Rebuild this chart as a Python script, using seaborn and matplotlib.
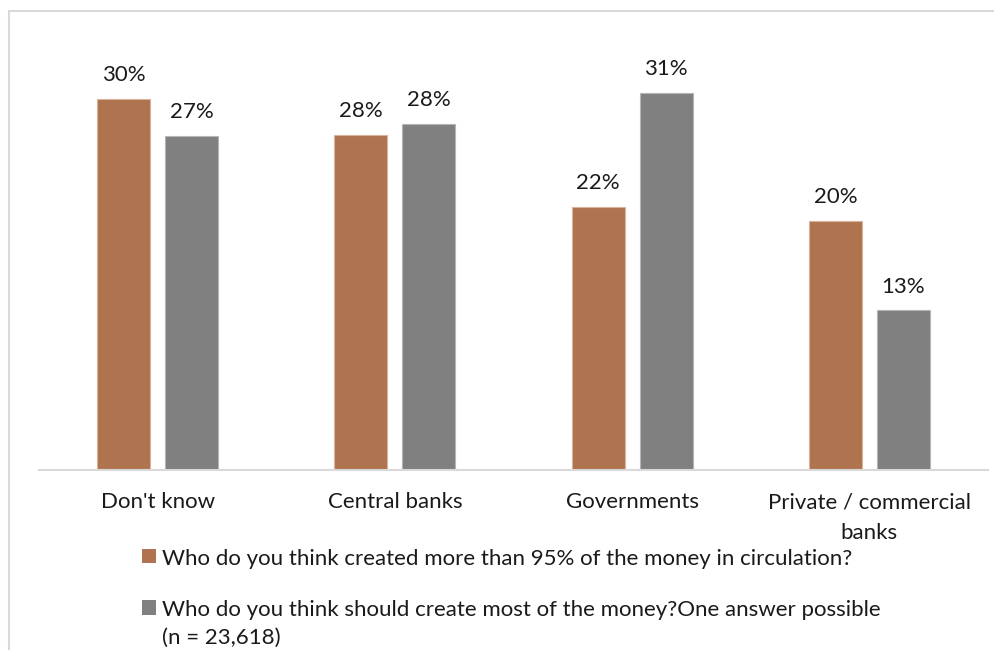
import matplotlib
matplotlib.use("Agg")
import matplotlib.pyplot as plt
import seaborn as sns
import pandas as pd
from matplotlib.patches import Rectangle, Patch

categories = ["Don't know", "Central banks", "Governments", "Private / commercial\nbanks"]
series_names = [
    "Who do you think created more than 95% of the money in circulation?",
    "Who do you think should create most of the money?One answer possible\n(n = 23,618)",
]
created_values = [30.0, 27.1, 21.3, 20.1]
should_values = [27.0, 28.0, 30.5, 12.9]
created_labels = ["30%", "28%", "22%", "20%"]
should_labels = ["27%", "28%", "31%", "13%"]
colors = ["#B0734F", "#808080"]

df = pd.DataFrame({
    "category": categories * 2,
    "series": [series_names[0]] * 4 + [series_names[1]] * 4,
    "value": created_values + should_values,
})

sns.set_theme(style="white")
plt.rcParams["font.family"] = ["Lato", "DejaVu Sans"]

fig = plt.figure(figsize=(9.94, 6.5), dpi=100)
ax = fig.add_axes([39 / 994, 180 / 650, 949 / 994, 35 * 12.37 / 650])

sns.barplot(data=df, x="category", y="value", hue="series", order=categories,
            hue_order=series_names, palette=colors, width=0.573, gap=0.22,
            saturation=1, ax=ax, legend=False, errorbar=None)

for cont, col, labs in zip(ax.containers, ["#D9B49E", "#B5B5B5"],
                           [created_labels, should_labels]):
    for b in cont:
        b.set_edgecolor(col)
        b.set_linewidth(0.8)
    ax.bar_label(cont, labels=labs, padding=10, fontsize=16, color="#1a1a1a")

ax.set_xlim(-0.5, 3.5)
ax.set_ylim(0, 35)
ax.set_xlabel("")
ax.set_ylabel("")
ax.set_yticks([])
ax.tick_params(axis="x", length=0, pad=16, labelsize=16, labelcolor="#1a1a1a")
for lab in ax.get_xticklabels():
    lab.set_linespacing(1.7)
for s in ["top", "left", "right"]:
    ax.spines[s].set_visible(False)
ax.spines["bottom"].set_color("#D9D9D9")
ax.spines["bottom"].set_linewidth(1.5)

handles = [Patch(facecolor=c, edgecolor="none") for c in colors]
leg = fig.legend(handles, series_names, loc="upper left",
                 bbox_to_anchor=(133 / 994, 1 - 540 / 650), frameon=False,
                 fontsize=16, handlelength=0.63, handleheight=0.63,
                 handletextpad=0.27, labelspacing=1.4, borderaxespad=0)
for t in leg.get_texts():
    t.set_color("#1a1a1a")
    t.set_linespacing(1.5)
for col in leg._legend_handle_box.get_children():
    for row in col.get_children():
        row.align = "top"

fig.patches.append(Rectangle((9 / 994, -0.05), 1.1, 1 - 11 / 650 + 0.05,
                             transform=fig.transFigure, fill=False,
                             edgecolor="#D9D9D9", linewidth=1.5))

fig.savefig("out.png", dpi=100)
